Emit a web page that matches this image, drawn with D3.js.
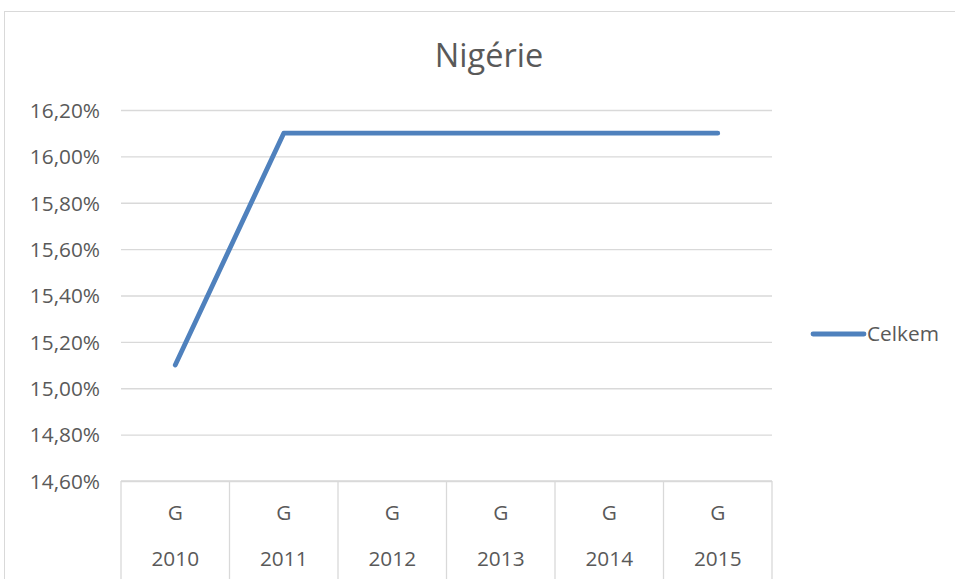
<!DOCTYPE html>
<html><head><meta charset="utf-8">
<script src="https://cdn.jsdelivr.net/npm/d3@7"></script>
<style>body{margin:0;background:#fff}svg{display:block}text{font-family:"Open Sans","Liberation Sans",sans-serif;fill:#595959}</style>
</head><body><svg id="c" width="955" height="579"></svg>
<script>
const years = ["2010","2011","2012","2013","2014","2015"];
const groups = ["G","G","G","G","G","G"];
const values = [0.151,0.161,0.161,0.161,0.161,0.161];
const yTicks = [0.146,0.148,0.150,0.152,0.154,0.156,0.158,0.160,0.162];
const seriesName = "Celkem";
const title = "Nigérie";

const FF = "'Open Sans','Liberation Sans',sans-serif";
const FS = 20.8;
const svg = d3.select("#c");
svg.append("rect").attr("x",4.5).attr("y",11.5).attr("width",1000).attr("height",700)
  .attr("fill","none").attr("stroke","#d9d9d9");

const L=121,R=772,T=110,B=481;
const x = d3.scaleBand().domain(years).range([L,R]);
const y = d3.scaleLinear().domain([0.146,0.162]).range([B,T]);
const fmt = v => (v*100).toFixed(2).replace(".",",")+"%";

svg.append("text").attr("x",489).attr("y",67).attr("text-anchor","middle")
  .attr("font-size",32.5).style("font-family",FF).text(title);

const ya = svg.append("g").attr("transform",`translate(${L},0)`)
  .call(d3.axisLeft(y).tickValues(yTicks).tickSize(-(R-L)).tickFormat(fmt));
ya.select(".domain").remove();
ya.selectAll(".tick line").attr("stroke","#d9d9d9").attr("stroke-width",1.3);
ya.selectAll(".tick text").attr("x",-21).attr("font-size",FS).attr("fill","#595959").attr("dy","0.35em")
  .style("font-family",FF);

const xa = svg.append("g").attr("transform",`translate(0,${B})`);
xa.append("line").attr("x1",L).attr("x2",R).attr("stroke","#d9d9d9").attr("stroke-width",1.3);
const edges = years.map(d=>x(d)).concat([R]);
xa.selectAll("line.sep").data(edges).join("line").attr("class","sep")
  .attr("x1",d=>d).attr("x2",d=>d).attr("y1",0).attr("y2",100)
  .attr("stroke","#d9d9d9").attr("stroke-width",1.3);
xa.selectAll("text.g").data(years).join("text").attr("class","g")
  .attr("x",d=>x(d)+x.bandwidth()/2).attr("y",39).attr("text-anchor","middle")
  .attr("font-size",FS).style("font-family",FF).text((d,i)=>groups[i]);
xa.selectAll("text.yr").data(years).join("text").attr("class","yr")
  .attr("x",d=>x(d)+x.bandwidth()/2).attr("y",85).attr("text-anchor","middle")
  .attr("font-size",FS).style("font-family",FF).text(d=>d);

const line = d3.line().x((d,i)=>x(years[i])+x.bandwidth()/2).y(d=>y(d));
svg.append("path").datum(values).attr("d",line).attr("fill","none")
  .attr("stroke","#4f81bd").attr("stroke-width",4.8).attr("stroke-linecap","round").attr("stroke-linejoin","round");

svg.append("line").attr("x1",813).attr("x2",864).attr("y1",334).attr("y2",334)
  .attr("stroke","#4f81bd").attr("stroke-width",4.8).attr("stroke-linecap","round");
svg.append("text").attr("x",867).attr("y",334).attr("dy","0.35em").attr("font-size",FS)
  .style("font-family",FF).text(seriesName);
</script></body></html>
